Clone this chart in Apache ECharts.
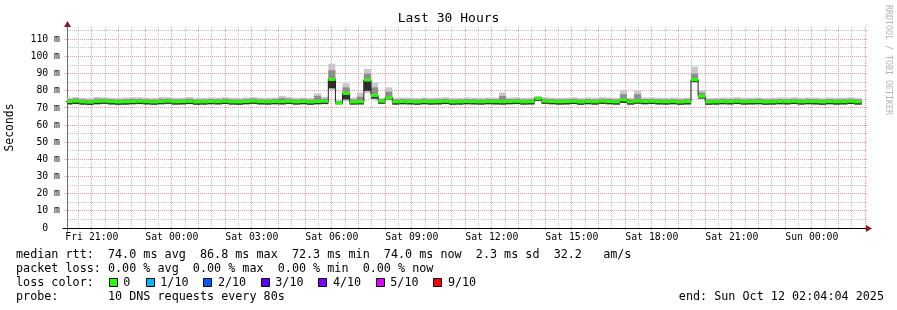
<!DOCTYPE html>
<html><head><meta charset="utf-8">
<script src="https://cdn.jsdelivr.net/npm/echarts@6/dist/echarts.min.js"></script>
<style>html,body{margin:0;padding:0;background:#fff}#c{width:897px;height:310px}</style>
</head><body><div id="c"></div>
<script>
// ---------- data ----------
// x axis in hours after Fri 00:00; window = last 30 hours ending Sun 02:04:04
const axisStartH = 20 + 4/60 + 4/3600;
const axisEndH = axisStartH + 30;
// 16-minute consolidated columns, first one starts Fri 20:00
const firstColMin = 1200;
const colStepMin = 16;

const xTickHours = [21,24,27,30,33,36,39,42,45,48];
const xTickLabels = ['Fri 21:00','Sat 00:00','Sat 03:00','Sat 06:00','Sat 09:00','Sat 12:00','Sat 15:00','Sat 18:00','Sat 21:00','Sun 00:00'];
const yTickValues = [0,10,20,30,40,50,60,70,80,90,100,110];
const yTickLabels = ['0  ','10 m','20 m','30 m','40 m','50 m','60 m','70 m','80 m','90 m','100 m','110 m'];

// median rtt per column (ms)
const medianMs = [
73.8,74.0,73.6,73.4,73.9,74.0,73.7,73.5,73.6,73.8,
73.9,73.7,73.5,73.8,74.0,73.6,73.7,73.9,73.5,73.6,
73.8,73.7,73.9,73.6,73.5,73.8,74.0,73.7,73.6,73.8,
73.7,73.9,73.6,73.8,73.5,73.8,73.9,86.6,73.0,78.5,
73.5,73.6,86.3,77.3,74.0,76.0,73.6,73.8,73.7,73.5,
73.8,73.6,73.7,73.9,73.5,73.6,73.8,73.7,73.6,73.8,
73.7,73.6,73.8,73.9,73.6,73.7,75.6,74.0,73.8,73.6,
73.7,73.9,73.5,73.8,73.6,74.0,73.8,73.6,74.7,73.6,
74.0,73.8,73.9,73.7,73.6,73.8,73.5,73.7,86.5,76.8,
73.5,73.6,73.8,73.7,73.9,73.6,73.7,73.8,73.5,73.6,
73.8,73.7,73.9,73.6,73.8,73.7,73.5,73.8,73.6,73.7,
73.9,73.6];
// lowest / highest ping of each column (ms)
const pingMin = [
71.9,72.1,71.8,71.6,72.0,72.2,71.9,71.7,71.8,72.0,
72.1,71.9,71.7,72.0,72.2,71.8,71.9,72.1,71.7,71.8,
72.0,71.9,72.1,71.8,71.7,72.0,72.2,71.9,71.8,72.0,
71.9,72.1,71.8,72.0,71.7,72.0,72.1,80.5,72.0,74.0,
71.9,72.0,78.6,74.5,72.3,74.5,71.8,72.0,71.9,71.7,
72.0,71.8,71.9,72.1,71.7,71.8,72.0,71.9,71.8,72.0,
71.9,71.8,72.0,72.1,71.8,71.9,74.0,72.2,72.0,71.8,
71.9,72.1,71.7,72.0,71.8,72.2,72.0,71.8,72.8,71.8,
72.3,72.0,72.1,71.9,71.8,72.0,71.7,71.9,84.5,75.2,
71.7,71.8,72.0,71.9,72.1,71.8,71.9,72.0,71.7,71.8,
72.0,71.9,72.1,71.8,72.0,71.9,71.7,72.0,71.8,71.9,
72.1,71.8];
const pingMax = [
76.0,76.3,75.9,75.7,76.4,76.2,75.9,75.8,76.1,76.3,
76.2,75.9,75.8,76.3,76.2,75.9,76.0,76.4,75.8,75.9,
76.1,76.0,76.3,75.9,75.8,76.2,76.3,76.0,75.9,76.1,
77.0,76.4,75.9,76.1,75.8,78.5,76.4,95.7,74.5,84.4,
76.0,79.0,92.8,84.8,75.8,82.0,75.9,76.1,76.0,75.8,
76.1,75.9,76.0,76.2,75.8,75.9,76.2,76.0,75.9,76.1,
76.0,79.0,76.1,76.2,75.9,76.0,76.9,76.3,76.0,75.9,
76.0,76.2,75.8,76.1,75.9,76.3,76.1,75.9,80.5,75.9,
80.1,76.1,76.2,76.0,75.9,76.1,75.8,76.0,94.1,80.5,
75.8,75.9,76.1,76.0,76.2,75.9,76.0,76.1,75.8,75.9,
76.1,76.0,76.2,75.9,76.1,76.0,75.8,76.1,75.9,76.0,
76.2,75.9];
// inner (denser) smoke band
const coreLo = [
72.1,72.3,72.0,71.8,72.2,72.4,72.1,71.9,72.0,72.2,
72.3,72.1,71.9,72.2,72.4,72.0,72.1,72.3,71.9,72.0,
72.2,72.1,72.3,72.0,71.9,72.2,72.4,72.1,72.0,72.2,
72.1,72.3,72.0,72.2,71.9,72.2,72.3,81.5,72.2,75.0,
72.0,72.1,80.0,75.5,72.5,75.0,72.0,72.2,72.1,71.9,
72.2,72.0,72.1,72.3,71.9,72.0,72.2,72.1,72.0,72.2,
72.1,72.0,72.2,72.3,72.0,72.1,74.2,72.4,72.2,72.0,
72.1,72.3,71.9,72.2,72.0,72.4,72.2,72.0,73.0,72.0,
72.5,72.2,72.3,72.1,72.0,72.2,71.9,72.1,85.2,75.5,
71.9,72.0,72.2,72.1,72.3,72.0,72.1,72.2,71.9,72.0,
72.2,72.1,72.3,72.0,72.2,72.1,71.9,72.2,72.0,72.1,
72.3,72.0];
const coreHi = [
75.2,75.5,75.0,74.8,75.4,75.4,75.1,74.9,75.1,75.3,
75.3,75.1,74.9,75.3,75.4,75.0,75.1,75.4,74.9,75.0,
75.2,75.1,75.4,75.0,74.9,75.2,75.5,75.1,75.0,75.2,
75.8,75.4,75.0,75.2,74.9,77.0,75.4,92.0,74.0,82.0,
75.0,76.5,90.0,82.0,75.2,79.5,75.0,75.2,75.1,74.9,
75.2,75.0,75.1,75.3,74.9,75.0,75.2,75.1,75.0,75.2,
75.1,77.0,75.2,75.3,75.0,75.1,76.3,75.4,75.2,75.0,
75.1,75.3,74.9,75.2,75.0,75.4,75.2,75.0,78.0,75.0,
78.0,75.2,75.3,75.1,75.0,75.2,74.9,75.1,90.0,79.0,
74.9,75.0,75.2,75.1,75.3,75.0,75.1,75.2,74.9,75.0,
75.2,75.1,75.3,75.0,75.2,75.1,74.9,75.2,75.0,75.1,
75.3,75.0];

const lossNames = ['0','1/10','2/10','3/10','4/10','5/10','9/10'];
const lossColors = ['#26ff00','#00b8ff','#0059ff','#5e00ff','#7e00ff','#dd00ff','#ff0000'];

// ---------- chart ----------
const G = {left: 67, top: 27, right: 30, bottom: 82};
const YMAX = 117.2;
const chart = echarts.init(document.getElementById('c'), null, {renderer: 'canvas'});

const colT0 = medianMs.map((_, i) => (firstColMin + i * colStepMin) / 60);
const colT1 = medianMs.map((_, i) => (firstColMin + (i + 1) * colStepMin) / 60);
const smokeData = medianMs.map((m, i) => [colT0[i], colT1[i], pingMin[i], pingMax[i], coreLo[i], coreHi[i], m]);
const medData = medianMs.map((m, i) => [colT0[i], colT1[i], m]);
const stepData = medianMs.map((m, i) => [colT0[i], m]);
stepData.push([colT1[colT1.length - 1], medianMs[medianMs.length - 1]]);

function rectFor(api, params, t0, t1, lo, hi, fill) {
  const p0 = api.coord([t0, hi]);
  const p1 = api.coord([t1, lo]);
  const cs = params.coordSys;
  const r = echarts.graphic.clipRectByRect(
    {x: p0[0], y: p0[1], width: p1[0] - p0[0], height: p1[1] - p0[1]},
    {x: cs.x, y: cs.y, width: cs.width, height: cs.height});
  if (!r) return null;
  return {type: 'rect', shape: r, style: {fill: fill}};
}

const option = {
  animation: false,
  backgroundColor: '#ffffff',
  grid: {left: G.left, top: G.top, right: G.right, bottom: G.bottom, containLabel: false},
  xAxis: {
    type: 'value', min: axisStartH, max: axisEndH,
    axisLine: {show: false},
    axisTick: {show: false},
    axisLabel: {customValues: xTickHours, margin: 4, color: '#000', fontFamily: 'DejaVu Sans Mono', fontSize: 9.8,
      formatter: v => xTickLabels[xTickHours.indexOf(Math.round(v))] || ''},
    splitLine: {show: false}
  },
  yAxis: {
    type: 'value', min: 0, max: YMAX,
    axisLine: {show: false},
    axisTick: {show: false},
    axisLabel: {customValues: yTickValues, margin: 7, color: '#000', fontFamily: 'DejaVu Sans Mono', fontSize: 9.8,
      formatter: v => yTickLabels[yTickValues.indexOf(Math.round(v))] || ''},
    splitLine: {show: false}
  },
  series: [{
    type: 'custom', name: 'smoke', z: 2,
    data: smokeData, silent: true,
    renderItem: (params, api) => {
      const t0 = api.value(0), t1 = api.value(1);
      const kids = [
        rectFor(api, params, t0, t1, api.value(2), api.value(3), '#c8c8c8'),
        rectFor(api, params, t0, t1, api.value(4), api.value(5), '#8e8e8e'),
        rectFor(api, params, t0, t1, api.value(4), api.value(6), '#2e2e2e')
      ].filter(Boolean);
      return {type: 'group', children: kids};
    }
  }, {
    type: 'line', name: 'median', z: 3,
    data: stepData, step: 'end', showSymbol: false, symbol: 'none', silent: true,
    lineStyle: {color: '#202020', width: 1}
  }, {
    type: 'custom', name: 'median band', z: 4,
    data: medData, silent: true,
    renderItem: (params, api) => {
      const m = api.value(2);
      const r = rectFor(api, params, api.value(0), api.value(1), m - 0.9, m + 0.9, lossColors[0]);
      return r || {type: 'group', children: []};
    }
  }]
};
chart.setOption(option);

// ---------- grid, axes and texts (positions from the chart's own scales) ----------
const px = (x, y) => chart.convertToPixel({gridIndex: 0}, [x, y]);
const snap = v => Math.round(v - 0.5) + 0.5;
const topY = Math.round(px(axisStartH, YMAX)[1]);
const botY = snap(px(axisStartH, 0)[1]);
const leftX = snap(px(axisStartH, 0)[0]);
const rightX = Math.round(px(axisEndH, 0)[0]);
const RED = '#f09a9a', GRAY = '#c4c4c4';
const gfx = [];
const line = (x1, y1, x2, y2, color, dash) => gfx.push({type: 'line', silent: true, z: 0,
  shape: {x1, y1, x2, y2}, style: {stroke: color, lineWidth: 1, lineDash: dash || null}});

for (let h = 20.5; h < axisEndH; h += 1) {
  const x = snap(px(h, 0)[0]);
  line(x, topY, x, botY, GRAY, [1, 1]);
}
for (let v = 5; v < YMAX; v += 10) {
  const y = snap(px(axisStartH, v)[1]);
  line(leftX + 0.5, y, rightX, y, GRAY, [1, 1]);
}
yTickValues.forEach(v => {
  if (v === 0) return;
  const y = snap(px(axisStartH, v)[1]);
  line(leftX - 3.5, y, rightX, y, RED, [1, 1]);
});
for (let h = 21; h < axisEndH; h += 1) {
  const x = snap(px(h, 0)[0]);
  line(x, topY, x, botY + 2.5, RED, [1, 1]);
}
// axes
line(leftX, 22, leftX, botY + 3, '#707070');
line(leftX - 5, botY, rightX + 2, botY, '#000000');
gfx.push({type: 'polygon', silent: true, z: 5, shape: {points: [[rightX - 1, botY - 3.5], [rightX + 5, botY], [rightX - 1, botY + 3.5]]}, style: {fill: '#8b1a1a'}});
gfx.push({type: 'polygon', silent: true, z: 5, shape: {points: [[leftX - 3.5, 27], [leftX, 21], [leftX + 3.5, 27]]}, style: {fill: '#8b1a1a'}});

const FONT_L = '11.76px "DejaVu Sans Mono"';
const txt = (x, y, s, opts, extra) => gfx.push(Object.assign({type: 'text', x: x, y: y, silent: true, z: 5,
  style: Object.assign({text: s, fill: '#000', font: FONT_L, textVerticalAlign: 'middle'}, opts || {})}, extra || {}));
txt(448.5, 19, 'Last 30 Hours', {font: '13px "DejaVu Sans Mono"', textAlign: 'center'});
txt(10, 127.5, 'Seconds', {font: '11.4px "DejaVu Sans Mono"', textAlign: 'center'}, {rotation: Math.PI / 2});
txt(888, 5, 'RRDTOOL / TOBI OETIKER', {font: '8.3px "DejaVu Sans Mono"', fill: '#b4b4b4', textAlign: 'left'}, {rotation: -Math.PI / 2});
txt(16, 254.5, 'median rtt:  74.0 ms avg  86.8 ms max  72.3 ms min  74.0 ms now  2.3 ms sd  32.2   am/s');
txt(16, 268.5, 'packet loss: 0.00 % avg  0.00 % max  0.00 % min  0.00 % now');
txt(16, 282.5, 'loss color:');
const boxX = [108.7, 145.7, 203.3, 260.7, 318.3, 375.7, 433.3];
lossNames.forEach((n, i) => {
  gfx.push({type: 'rect', silent: true, z: 5, shape: {x: Math.round(boxX[i]) + 0.5, y: 278.5, width: 8, height: 8},
    style: {fill: lossColors[i], stroke: '#000', lineWidth: 1}});
  txt(boxX[i] + 14.6, 282.5, n);
});
txt(16, 296.5, 'probe:       10 DNS requests every 80s');
txt(884, 296.5, 'end: Sun Oct 12 02:04:04 2025', {textAlign: 'right'});

chart.setOption({graphic: {elements: gfx}});
</script>
</body></html>
